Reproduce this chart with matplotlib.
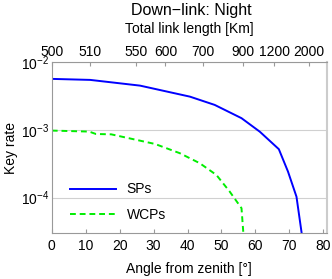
import matplotlib
matplotlib.use("Agg")
import matplotlib.pyplot as plt

plt.rcParams["font.family"] = ["Liberation Sans", "DejaVu Sans"]
plt.rcParams["mathtext.fontset"] = "custom"
plt.rcParams["mathtext.rm"] = "Liberation Sans"

# zenith angle [deg] vs key rate
sp_angle = [0, 11.3, 26, 40.7, 48, 55.9, 61.3, 66.9, 69.6, 72.1, 74]
sp_rate = [5.67e-3, 5.48e-3, 4.51e-3, 3.10e-3, 2.34e-3, 1.49e-3, 9.4e-4, 5.19e-4, 2.42e-4, 1.03e-4, 2.2e-5]

wcp_angle = [0, 11, 13, 17.5, 30.4, 37.7, 43.6, 48.5, 52.4, 55.9, 56.7]
wcp_rate = [9.77e-4, 9.44e-4, 8.7e-4, 8.6e-4, 6.2e-4, 4.53e-4, 3.22e-4, 2.16e-4, 1.23e-4, 6.97e-5, 2.0e-5]

# top axis: total link length labels at their zenith angles
link_length = [500, 510, 550, 600, 700, 900, 1200, 2000]
link_angle = [0, 11.3, 24.7, 33.5, 44.5, 56.3, 65.6, 75.7]

angle_ticks = [0, 10, 20, 30, 40, 50, 60, 70, 80]

fs = 10

fig = plt.figure(figsize=(3.32, 2.79), dpi=100)
ax = fig.add_axes([0.156, 0.165, 0.828, 0.612])

ax.plot(sp_angle, sp_rate, color="#0000ff", lw=1.4, label="SPs")
ax.plot(wcp_angle, wcp_rate, color="#00ee00", lw=1.4, ls=(0, (3, 2)), label="WCPs")

ax.set_yscale("log")
ax.set_xlim(0, 81)
ax.set_ylim(3e-5, 1e-2)
ax.set_xticks(angle_ticks)
ax.minorticks_off()
ax.yaxis.grid(True, color="#d0d0d0", lw=0.8)
ax.set_axisbelow(True)
for s in ax.spines.values():
    s.set_color("#999999")
ax.spines["right"].set_color("#cccccc")
ax.spines["right"].set_linewidth(1.5)
ax.tick_params(axis="both", direction="in", length=3, color="#999999",
               labelsize=fs, labelcolor="black", pad=4)
ax.tick_params(axis="y", length=0, pad=2)
ax.set_xlabel("Angle from zenith [°]", fontsize=fs, labelpad=7)
ax.set_ylabel("Key rate", fontsize=fs, labelpad=2)

top = ax.twiny()
top.set_xlim(ax.get_xlim())
top.set_xticks(link_angle)
top.set_xticklabels([str(v) for v in link_length])
top.minorticks_off()
for s in top.spines.values():
    s.set_visible(False)
top.tick_params(axis="x", direction="in", length=3, color="#999999",
                labelsize=fs, pad=2)
top.set_xlabel("Total link length [Km]", fontsize=fs, labelpad=9)

fig.text(0.575, 0.962, "Down\u2212link: Night", ha="center", va="center", fontsize=11.5)

leg = ax.legend(loc="lower left", bbox_to_anchor=(0.02, -0.01), frameon=False,
                fontsize=fs, handlelength=3.3, labelspacing=0.85)

fig.savefig("out.png", dpi=100)
